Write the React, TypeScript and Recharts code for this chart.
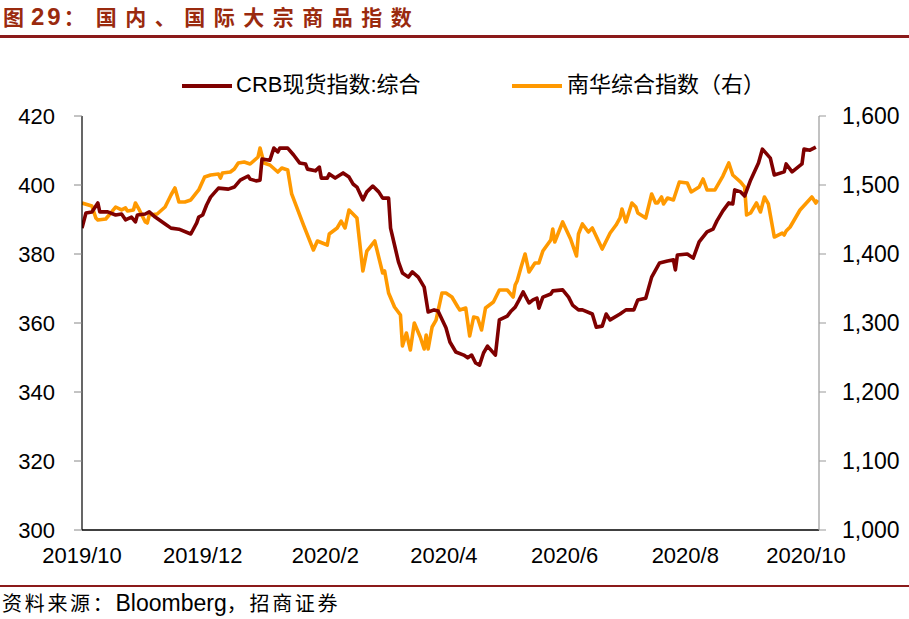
import React from "react";
import { LineChart, Line, XAxis, YAxis } from "recharts";

const crbDates = [
  "2019-10-01","2019-10-03","2019-10-06","2019-10-09","2019-10-10","2019-10-14","2019-10-18","2019-10-21","2019-10-23","2019-10-26",
  "2019-10-28","2019-10-29","2019-11-02","2019-11-04","2019-11-07","2019-11-12","2019-11-15","2019-11-19","2019-11-25","2019-11-28",
  "2019-11-29","2019-12-01","2019-12-03","2019-12-05","2019-12-09","2019-12-14","2019-12-17","2019-12-20","2019-12-24","2019-12-25",
  "2019-12-28","2019-12-30","2019-12-31","2020-01-04","2020-01-06","2020-01-08","2020-01-09","2020-01-13","2020-01-16","2020-01-19",
  "2020-01-22","2020-01-23","2020-01-27","2020-01-29","2020-01-30","2020-02-02","2020-02-03","2020-02-06","2020-02-10","2020-02-13",
  "2020-02-15","2020-02-17","2020-02-20","2020-02-22","2020-02-25","2020-02-28","2020-03-01","2020-03-04","2020-03-05","2020-03-07",
  "2020-03-09","2020-03-11","2020-03-14","2020-03-16","2020-03-19","2020-03-22","2020-03-24","2020-03-27","2020-03-29","2020-04-02",
  "2020-04-04","2020-04-07","2020-04-11","2020-04-13","2020-04-15","2020-04-17","2020-04-19","2020-04-21","2020-04-23","2020-04-27",
  "2020-04-29","2020-05-03","2020-05-05","2020-05-07","2020-05-09","2020-05-11","2020-05-14","2020-05-16","2020-05-18","2020-05-19",
  "2020-05-21","2020-05-25","2020-05-26","2020-05-31","2020-06-03","2020-06-05","2020-06-08","2020-06-10","2020-06-15","2020-06-17",
  "2020-06-20","2020-06-22","2020-06-24","2020-06-29","2020-07-02","2020-07-06","2020-07-08","2020-07-12","2020-07-15","2020-07-19",
  "2020-07-23","2020-07-26","2020-07-27","2020-07-28","2020-08-02","2020-08-05","2020-08-08","2020-08-12","2020-08-15","2020-08-17",
  "2020-08-20","2020-08-23","2020-08-25","2020-08-26","2020-08-29","2020-08-31","2020-09-03","2020-09-07","2020-09-09","2020-09-13",
  "2020-09-15","2020-09-20","2020-09-21","2020-09-24","2020-09-29","2020-09-30","2020-10-03","2020-10-06",
];
const crbValues = [
  387.5,391.9,392.2,394.8,392.2,392.2,391.3,391.6,389.9,390.7,
  389.3,391.3,391.6,392.2,390.7,388.7,387.5,387.2,385.8,389.0,
  390.7,391.3,394.2,396.5,399.1,398.8,399.4,401.4,402.6,401.7,
  401.2,401.4,407.5,407.2,410.7,409.6,410.7,410.7,408.7,406.4,
  406.1,404.6,404.1,405.2,402.0,402.0,403.2,402.0,403.5,402.3,
  400.3,399.4,395.7,398.0,399.7,398.0,396.2,396.2,387.5,382.6,
  377.7,374.5,373.3,374.8,373.3,370.4,363.2,363.8,363.5,358.6,
  354.5,351.6,350.7,349.9,350.7,348.4,347.8,351.3,353.3,350.7,
  360.9,362.0,363.5,364.6,366.7,369.0,365.8,366.7,367.2,364.3,
  367.5,368.4,369.3,369.6,367.5,365.2,363.8,363.8,362.6,358.8,
  359.1,362.6,360.9,362.6,363.8,363.8,366.7,367.2,373.3,377.4,
  378.0,378.3,375.4,379.7,380.0,378.8,383.5,386.4,387.2,389.6,
  392.5,394.8,394.5,398.6,398.0,396.8,401.4,406.4,410.4,407.8,
  402.9,403.8,406.1,403.8,406.1,410.4,410.1,411.0,
];

const nhDates = [
  "2019-10-01","2019-10-06","2019-10-08","2019-10-09","2019-10-13","2019-10-16","2019-10-18","2019-10-21","2019-10-23","2019-10-24",
  "2019-10-27","2019-10-28","2019-10-30","2019-11-02","2019-11-03","2019-11-04","2019-11-08","2019-11-12","2019-11-15","2019-11-17",
  "2019-11-19","2019-11-22","2019-11-25","2019-11-29","2019-12-02","2019-12-05","2019-12-09","2019-12-10","2019-12-11","2019-12-15",
  "2019-12-17","2019-12-19","2019-12-22","2019-12-25","2019-12-29","2019-12-30","2020-01-01","2020-01-04","2020-01-08","2020-01-10",
  "2020-01-13","2020-01-15","2020-01-21","2020-01-26","2020-01-28","2020-02-02","2020-02-03","2020-02-07","2020-02-09","2020-02-11",
  "2020-02-13","2020-02-17","2020-02-20","2020-02-22","2020-02-26","2020-03-01","2020-03-02","2020-03-04","2020-03-07","2020-03-10",
  "2020-03-11","2020-03-13","2020-03-15","2020-03-17","2020-03-20","2020-03-22","2020-03-23","2020-03-24","2020-03-26","2020-03-28",
  "2020-03-31","2020-04-02","2020-04-05","2020-04-08","2020-04-09","2020-04-12","2020-04-14","2020-04-16","2020-04-18","2020-04-20",
  "2020-04-22","2020-04-26","2020-04-29","2020-05-03","2020-05-06","2020-05-07","2020-05-08","2020-05-10","2020-05-12","2020-05-14",
  "2020-05-17","2020-05-19","2020-05-21","2020-05-25","2020-05-26","2020-05-27","2020-05-31","2020-06-04","2020-06-07","2020-06-08",
  "2020-06-10","2020-06-13","2020-06-15","2020-06-20","2020-06-24","2020-06-27","2020-06-29","2020-06-30","2020-07-02","2020-07-05",
  "2020-07-07","2020-07-08","2020-07-12","2020-07-15","2020-07-17","2020-07-18","2020-07-20","2020-07-21","2020-07-23","2020-07-26",
  "2020-07-29","2020-08-02","2020-08-04","2020-08-08","2020-08-10","2020-08-12","2020-08-16","2020-08-20","2020-08-23","2020-08-25",
  "2020-08-29","2020-08-31","2020-09-01","2020-09-03","2020-09-06","2020-09-08","2020-09-10","2020-09-12","2020-09-15","2020-09-19",
  "2020-09-20","2020-09-21","2020-09-23","2020-09-28","2020-10-04","2020-10-06","2020-10-07",
];
const nhValues = [
  1473.9,1469.6,1452.2,1449.3,1450.7,1460.9,1468.1,1463.8,1466.7,1462.3,
  1463.8,1473.9,1463.8,1446.4,1444.9,1456.5,1458.0,1468.1,1485.5,1495.7,
  1475.4,1475.4,1478.3,1492.8,1511.6,1514.5,1515.9,1510.1,1517.4,1518.8,
  1523.2,1531.9,1533.3,1530.4,1540.6,1553.6,1531.9,1529.0,1518.8,1524.6,
  1521.7,1487.0,1442.0,1405.8,1418.8,1413.0,1429.0,1437.7,1447.8,1437.7,
  1463.8,1452.2,1375.4,1404.3,1418.8,1372.5,1375.4,1343.5,1323.2,1311.6,
  1266.7,1285.5,1260.9,1300.0,1279.7,1262.3,1282.6,1262.3,1294.2,1304.3,
  1343.5,1343.5,1337.7,1323.2,1318.8,1321.7,1281.2,1308.7,1307.2,1289.9,
  1321.7,1330.4,1347.8,1347.8,1337.7,1355.1,1360.9,1381.2,1400.0,1373.9,
  1387.0,1387.0,1404.3,1420.3,1436.2,1417.4,1446.4,1421.7,1397.1,1429.0,
  1443.5,1431.9,1437.7,1407.2,1430.4,1442.0,1452.2,1465.2,1446.4,1473.9,
  1468.1,1459.4,1452.2,1487.0,1473.9,1473.9,1482.6,1472.5,1481.2,1478.3,
  1504.3,1502.9,1489.9,1497.1,1508.7,1492.8,1492.8,1513.0,1531.9,1514.5,
  1504.3,1497.1,1456.5,1459.4,1473.9,1460.9,1482.6,1472.5,1424.6,1430.4,
  1427.5,1433.3,1439.1,1463.8,1482.6,1473.9,1478.3,
];

const xTickDates = ["2019-10-01", "2019-12-01", "2020-02-01", "2020-04-01", "2020-06-01", "2020-08-01", "2020-10-01"];
const leftTicks = [300, 320, 340, 360, 380, 400, 420];
const rightTicks = [1000, 1100, 1200, 1300, 1400, 1500, 1600];

const seriesNames = { crb: "CRB现货指数:综合", nh: "南华综合指数（右）" };
const titleParts = { prefix: "图", num: "29", colon: "：", text: "国内、国际大宗商品指数" };
const sourceParts = { head: "资料来源：", org: "Bloomberg", sep: "，", tail: "招商证券" };

const DAY = 86400000;
const toTs = (s: string) => Date.parse(s + "T00:00:00Z");
const startTs = toTs("2019-10-01");
const endTs = startTs + 372.6 * DAY;

const crbData = crbDates.map((d, i) => ({ t: toTs(d), v: crbValues[i] }));
const nhData = nhDates.map((d, i) => ({ t: toTs(d), v: nhValues[i] }));
const xTicks = xTickDates.map(toTs);

const CRB_COLOR = "#7f0000";
const NH_COLOR = "#ff9900";
const LATIN = "'Liberation Sans', Arial, 'Noto Sans CJK SC', sans-serif";
const CJK = "'Liberation Sans', 'Noto Sans CJK SC', sans-serif";

const fmtMonth = (ts: number) => {
  const d = new Date(ts);
  return `${d.getUTCFullYear()}/${d.getUTCMonth() + 1}`;
};
const fmtComma = (v: number) => v.toLocaleString("en-US");

export default function App() {
  const tickStyle = { fontSize: 22, fill: "#000", fontFamily: LATIN };
  const rightTickStyle = { fontSize: 23, fill: "#000", fontFamily: LATIN };
  return (
    <div style={{ position: "absolute", left: 0, top: 0, width: 909, height: 619, background: "#fff", overflow: "hidden" }}>
      <LineChart
        width={909}
        height={619}
        margin={{ top: 116, right: 20, bottom: 59, left: 22 }}
      >
        <XAxis
          dataKey="t"
          type="number"
          domain={[startTs, endTs]}
          ticks={xTicks}
          tickFormatter={fmtMonth}
          interval={0}
          allowDataOverflow
          height={30}
          tickLine={false}
          tickSize={6}
          tickMargin={11}
          axisLine={{ stroke: "#000", strokeWidth: 1.5 }}
          tick={tickStyle}
        />
        <YAxis
          yAxisId="left"
          orientation="left"
          domain={[300, 420]}
          ticks={leftTicks}
          interval={0}
          width={60}
          tickSize={8}
          tickMargin={19}
          axisLine={{ stroke: "#000", strokeWidth: 1.2 }}
          tickLine={{ stroke: "#888" }}
          tick={tickStyle}
        />
        <YAxis
          yAxisId="right"
          orientation="right"
          domain={[1000, 1600]}
          ticks={rightTicks}
          interval={0}
          width={70}
          tickSize={7}
          tickMargin={16}
          tickFormatter={fmtComma}
          axisLine={{ stroke: "#999", strokeWidth: 1.2 }}
          tickLine={{ stroke: "#999" }}
          tick={rightTickStyle}
        />
        <Line
          data={nhData}
          yAxisId="right"
          dataKey="v"
          name={seriesNames.nh}
          type="linear"
          stroke={NH_COLOR}
          strokeWidth={3.6}
          strokeLinejoin="round"
          dot={false}
          isAnimationActive={false}
        />
        <Line
          data={crbData}
          yAxisId="left"
          dataKey="v"
          name={seriesNames.crb}
          type="linear"
          stroke={CRB_COLOR}
          strokeWidth={3.6}
          strokeLinejoin="round"
          dot={false}
          isAnimationActive={false}
        />
      </LineChart>

      {/* title */}
      <div
        style={{
          position: "absolute",
          left: 3,
          top: 4,
          fontFamily: CJK,
          fontWeight: 700,
          fontSize: 21,
          lineHeight: "26px",
          color: "#9a2a0e",
          whiteSpace: "nowrap",
        }}
      >
        <span style={{ letterSpacing: 7 }}>{titleParts.prefix}</span>
        <span style={{ fontSize: 24, letterSpacing: 3 }}>{titleParts.num}</span>
        <span style={{ letterSpacing: 11 }}>{titleParts.colon}</span>
        <span style={{ letterSpacing: 8.5 }}>{titleParts.text}</span>
      </div>
      <div style={{ position: "absolute", left: 0, top: 35, width: 909, height: 2.5, background: "#8b1a1a" }} />

      {/* legend */}
      <div style={{ position: "absolute", left: 182, top: 84, width: 50, height: 4, background: CRB_COLOR }} />
      <div
        style={{ position: "absolute", left: 236, top: 73, fontSize: 22, lineHeight: "24px", fontFamily: CJK, color: "#000", whiteSpace: "nowrap" }}
      >
        {seriesNames.crb}
      </div>
      <div style={{ position: "absolute", left: 512, top: 84, width: 50, height: 4, background: NH_COLOR }} />
      <div
        style={{ position: "absolute", left: 567, top: 73, fontSize: 22, lineHeight: "24px", fontFamily: CJK, color: "#000", whiteSpace: "nowrap" }}
      >
        {seriesNames.nh}
      </div>

      {/* footer */}
      <div style={{ position: "absolute", left: 0, top: 585, width: 909, height: 2, background: "#8b1a1a" }} />
      <div
        style={{ position: "absolute", left: 2, top: 590, lineHeight: "26px", fontFamily: CJK, color: "#000", whiteSpace: "nowrap" }}
      >
        <span style={{ fontSize: 20, letterSpacing: 2.7 }}>{sourceParts.head}</span>
        <span style={{ fontSize: 23 }}>{sourceParts.org}</span>
        <span style={{ fontSize: 20, letterSpacing: 2.7 }}>{sourceParts.sep}</span>
        <span style={{ fontSize: 20, letterSpacing: 2.7 }}>{sourceParts.tail}</span>
      </div>
    </div>
  );
}
